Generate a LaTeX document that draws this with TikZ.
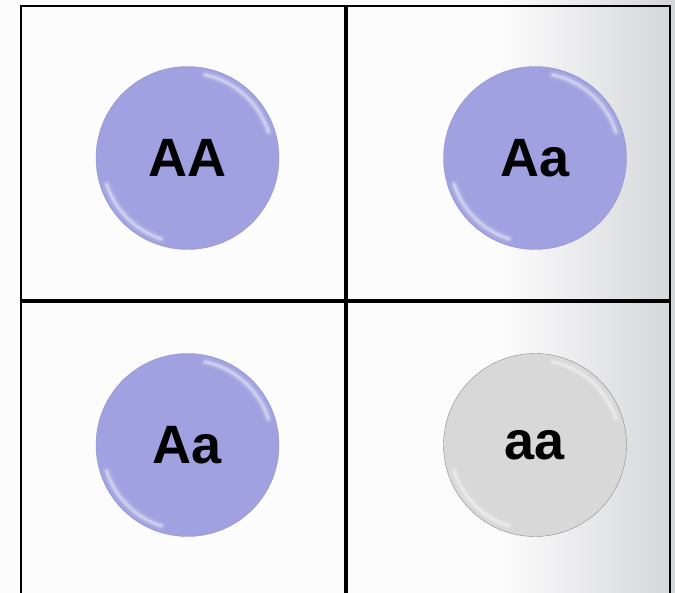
\documentclass[tikz,border=0pt]{standalone}
\usepackage{fontspec}
\setmainfont{Liberation Sans}
\begin{document}
\begin{tikzpicture}[x=1pt,y=-1pt,
  ball/.style={circle,minimum size=183pt,inner sep=0pt,font=\bfseries\fontsize{54}{60}\selectfont},
  blueball/.style={ball,fill=ballblue,draw=ballblue!85!black,line width=0.3pt},
  grayball/.style={ball,fill=ballgray,draw=black!45,line width=0.4pt},
  grid/.style={line width=4pt,black},
  frame/.style={line width=2.6pt,black},
  shine/.style={white,line cap=round}]
\definecolor{ballblue}{HTML}{A1A1E1}
\definecolor{ballgray}{HTML}{D8D8D8}
\definecolor{bgw}{HTML}{FCFCFC}
\definecolor{bgm}{HTML}{F0F0F1}
\definecolor{bgg}{HTML}{D5D6DA}
\useasboundingbox (0,0) rectangle (675,593);
\fill[bgw] (0,0) rectangle (675,593);
\shade[left color=bgw,middle color=bgm,right color=bgg] (500,0) rectangle (675,593);
% grid
\draw[frame] (21,600) -- (21,6) -- (670,6) -- (670,600);
\draw[grid] (346,6) -- (346,600);
\draw[grid] (21,301) -- (670,301);
% balls
\node[blueball] (AA) at (187.5,158) {AA};
\node[blueball] (Aa1) at (535,158) {Aa};
\node[blueball] (Aa2) at (187.5,445) {Aa};
\node[grayball] (aa) at (535,445) {aa};
% highlights
\foreach \n in {AA,Aa1,Aa2,aa}{
  \begin{scope}[shift={(\n.center)},yscale=-1]
    \foreach \w/\o in {10/0.05,7/0.08,5/0.12,3.5/0.16,2/0.22}{
      \draw[shine,opacity=\o,line width=\w pt]
        (18:85) arc[start angle=18,end angle=78,radius=85];
      \draw[shine,opacity=\o,line width=\w pt]
        (198:85) arc[start angle=198,end angle=252,radius=85];
    }
  \end{scope}
}
\end{tikzpicture}
\end{document}
